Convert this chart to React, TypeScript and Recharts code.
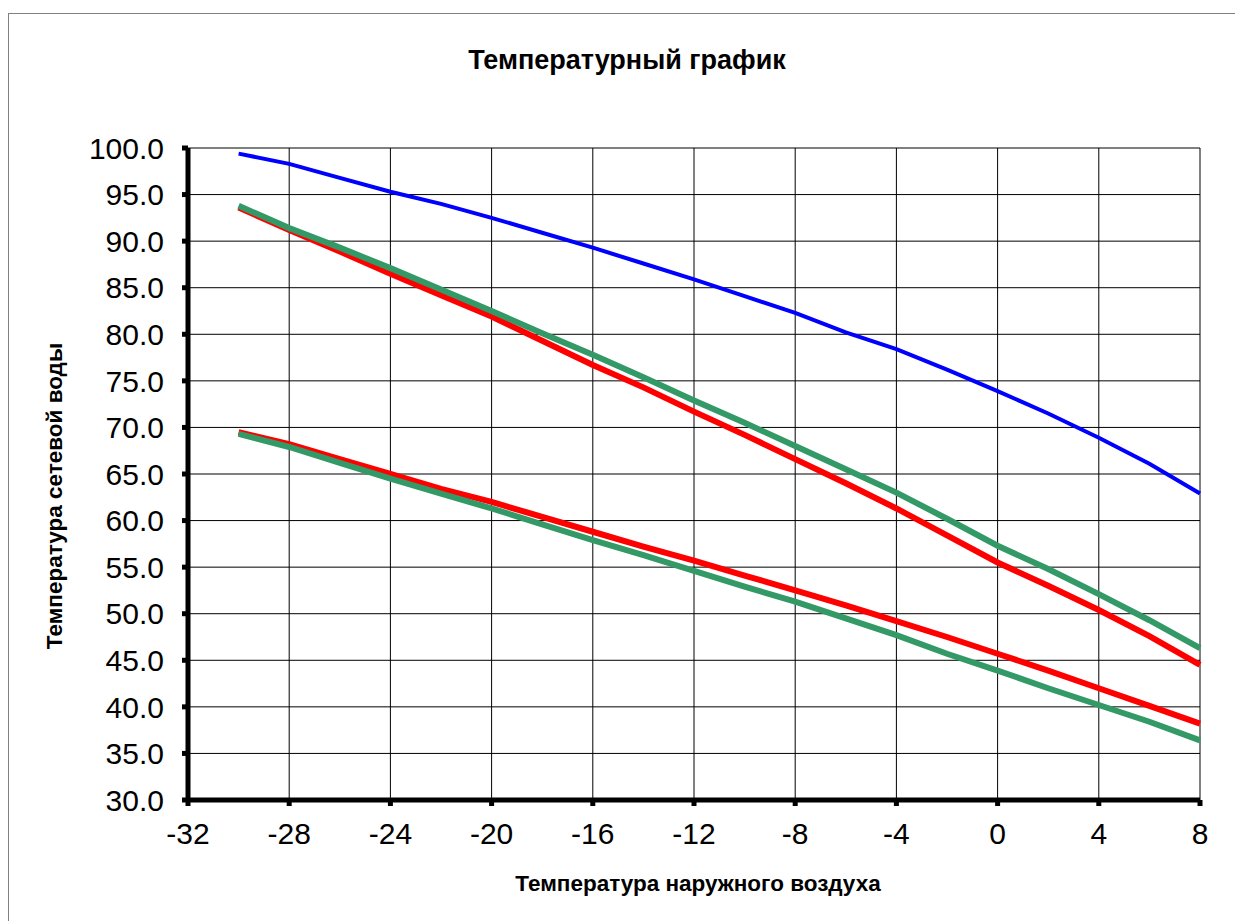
import { CartesianGrid, Line, LineChart, XAxis, YAxis } from "recharts"

// outside air temperature, °C
const outdoorTemp = [-30, -28, -26, -24, -22, -20, -18, -16, -14, -12, -10, -8, -6, -4, -2, 0, 2, 4, 6, 8]

// network water temperatures, °C
const supplyDesign = [99.4, 98.3, 96.8, 95.3, 94.0, 92.5, 90.9, 89.3, 87.6, 85.9, 84.1, 82.3, 80.2, 78.4, 76.2, 73.9, 71.5, 68.9, 66.1, 62.9]
const supplyRed = [93.6, 91.2, 88.9, 86.5, 84.2, 81.9, 79.3, 76.7, 74.3, 71.7, 69.2, 66.6, 64.0, 61.3, 58.4, 55.5, 53.0, 50.4, 47.6, 44.5]
const supplyGreen = [93.8, 91.4, 89.3, 87.1, 84.8, 82.5, 80.1, 77.8, 75.4, 72.9, 70.5, 68.0, 65.5, 63.0, 60.2, 57.3, 54.8, 52.1, 49.3, 46.3]
const returnRed = [69.5, 68.2, 66.6, 65.0, 63.4, 62.0, 60.4, 58.8, 57.2, 55.7, 54.1, 52.5, 50.9, 49.2, 47.5, 45.7, 43.9, 42.0, 40.1, 38.2]
const returnGreen = [69.3, 67.9, 66.2, 64.5, 62.9, 61.3, 59.6, 57.9, 56.3, 54.6, 52.9, 51.3, 49.5, 47.7, 45.7, 43.9, 42.0, 40.2, 38.4, 36.4]

const xTicks = [-32, -28, -24, -20, -16, -12, -8, -4, 0, 4, 8]
const yTicks = [30, 35, 40, 45, 50, 55, 60, 65, 70, 75, 80, 85, 90, 95, 100]

const data = outdoorTemp.map((t, i) => ({
  t,
  supplyDesign: supplyDesign[i],
  supplyRed: supplyRed[i],
  supplyGreen: supplyGreen[i],
  returnRed: returnRed[i],
  returnGreen: returnGreen[i],
}))

const FONT = '"Liberation Sans", Arial, sans-serif'
const W = 1235
const H = 908

export default function App() {
  return (
    <div
      style={{
        position: "relative",
        width: W,
        height: H,
        marginTop: 5,
        borderLeft: "1px solid #808080",
        borderTop: "1px solid #808080",
        background: "#fff",
        fontFamily: FONT,
      }}
    >
      <div
        style={{
          position: "absolute",
          left: 0,
          width: 1236,
          top: 31,
          textAlign: "center",
          fontWeight: "bold",
          fontSize: 27,
          lineHeight: "31px",
          color: "#000",
        }}
      >
        Температурный график
      </div>
      <LineChart
        width={W}
        height={H}
        data={data}
        margin={{ top: 134, right: 44, bottom: 62, left: 79 }}
      >
        <CartesianGrid stroke="#000" strokeWidth={1} />
        <XAxis
          dataKey="t"
          type="number"
          domain={[-32, 8]}
          ticks={xTicks}
          interval={0}
          height={60}
          axisLine={{ stroke: "#000", strokeWidth: 5 }}
          tickLine={{ stroke: "#000", strokeWidth: 5 }}
          tickSize={6}
          tickMargin={17}
          tick={{ fill: "#000", fontSize: 30, fontFamily: FONT }}
        />
        <YAxis
          type="number"
          domain={[30, 100]}
          ticks={yTicks}
          interval={0}
          width={100}
          axisLine={{ stroke: "#000", strokeWidth: 5 }}
          tickLine={{ stroke: "#000", strokeWidth: 5 }}
          tickSize={6}
          tickMargin={18}
          tickFormatter={(v: number) => v.toFixed(1)}
          tick={{ fill: "#000", fontSize: 30, fontFamily: FONT }}
        />
        <Line type="linear" dataKey="supplyDesign" stroke="#0000FF" strokeWidth={4} dot={false} isAnimationActive={false} />
        <Line type="linear" dataKey="supplyRed" stroke="#FF0000" strokeWidth={6} dot={false} isAnimationActive={false} />
        <Line type="linear" dataKey="returnRed" stroke="#FF0000" strokeWidth={6} dot={false} isAnimationActive={false} />
        <Line type="linear" dataKey="supplyGreen" stroke="#339966" strokeWidth={6} dot={false} isAnimationActive={false} />
        <Line type="linear" dataKey="returnGreen" stroke="#339966" strokeWidth={6} dot={false} isAnimationActive={false} />
      </LineChart>
      <div
        style={{
          position: "absolute",
          left: 46,
          top: 482,
          transform: "translate(-50%, -50%) rotate(-90deg)",
          whiteSpace: "nowrap",
          fontWeight: "bold",
          fontSize: 22.5,
          color: "#000",
        }}
      >
        Температура сетевой воды
      </div>
      <div
        style={{
          position: "absolute",
          left: 689,
          top: 870,
          transform: "translate(-50%, -50%)",
          whiteSpace: "nowrap",
          fontWeight: "bold",
          fontSize: 22.5,
          color: "#000",
        }}
      >
        Температура наружного воздуха
      </div>
    </div>
  )
}
